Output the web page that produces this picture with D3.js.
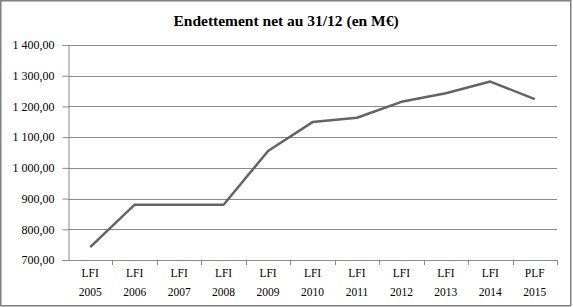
<!DOCTYPE html>
<html>
<head>
<meta charset="utf-8">
<script src="https://cdn.jsdelivr.net/npm/d3@7"></script>
<style>
  body { margin: 0; background: #fff; }
  svg text { font-family: "Liberation Serif", "Times New Roman", serif; fill: #000; }
</style>
</head>
<body>
<svg width="573" height="307"></svg>
<script>
// categories and values
var labelsTop = ["LFI", "LFI", "LFI", "LFI", "LFI", "LFI", "LFI", "LFI", "LFI", "LFI", "PLF"];
var years = ["2005", "2006", "2007", "2008", "2009", "2010", "2011", "2012", "2013", "2014", "2015"];
var values = [742, 880, 880, 880, 1055, 1149, 1163, 1215, 1243, 1281, 1224];
var yTicks = [700, 800, 900, 1000, 1100, 1200, 1300, 1400];

var svg = d3.select("svg"),
    width = 573,
    height = 307;

var margin = {left: 68, right: 16, top: 45, bottom: 47};

var fr = d3.formatLocale({decimal: ",", thousands: " ", grouping: [3], currency: ["", "€"]});
var fmt = fr.format(",.2f");

var x = d3.scaleBand()
    .domain(years)
    .range([margin.left, width - margin.right]);

var y = d3.scaleLinear()
    .domain([700, 1400])
    .range([height - margin.bottom, margin.top]);

// outer frame
svg.append("rect")
    .attr("x", 0.75).attr("y", 0.75)
    .attr("width", 570).attr("height", 305)
    .attr("fill", "#fff")
    .attr("stroke", "#808080")
    .attr("stroke-width", 1.5);

// title
svg.append("text")
    .attr("x", 286).attr("y", 26)
    .attr("text-anchor", "middle")
    .style("font-size", "15.5px")
    .style("font-weight", "bold")
    .text("Endettement net au 31/12 (en M€)");

// gridlines
svg.append("g")
    .selectAll("line")
    .data(yTicks.slice(1))
    .join("line")
    .attr("x1", margin.left).attr("x2", width - margin.right)
    .attr("y1", function(d) { return Math.round(y(d)) + 0.5; })
    .attr("y2", function(d) { return Math.round(y(d)) + 0.5; })
    .attr("stroke", "#8a8a8a");

// y axis
var yAxis = svg.append("g")
    .attr("transform", "translate(" + (margin.left + 0.5) + ",0)")
    .call(d3.axisLeft(y).tickValues(yTicks).tickFormat(fmt).tickSize(6).tickPadding(8));
yAxis.select(".domain").attr("stroke", "#8a8a8a");
yAxis.selectAll(".tick line").attr("stroke", "#8a8a8a");
yAxis.selectAll("text").style("font-size", "12px").attr("fill", "#000");

// x axis (ticks between categories)
var xg = svg.append("g");
xg.append("line")
    .attr("x1", margin.left).attr("x2", width - margin.right)
    .attr("y1", y(700) + 0.5).attr("y2", y(700) + 0.5)
    .attr("stroke", "#8a8a8a");
xg.selectAll("line.tk")
    .data(years)
    .join("line")
    .attr("class", "tk")
    .attr("x1", function(d) { return Math.round(x(d) + x.bandwidth()) + 0.5; })
    .attr("x2", function(d) { return Math.round(x(d) + x.bandwidth()) + 0.5; })
    .attr("y1", y(700)).attr("y2", y(700) + 5)
    .attr("stroke", "#8a8a8a");

var lab = xg.selectAll("text.cat")
    .data(years)
    .join("text")
    .attr("class", "cat")
    .attr("text-anchor", "middle")
    .style("font-size", "11.5px")
    .attr("x", function(d) { return x(d) + x.bandwidth() / 2; });
lab.append("tspan")
    .attr("x", function(d) { return x(d) + x.bandwidth() / 2; })
    .attr("y", 277)
    .text(function(d, i) { return labelsTop[i]; });
lab.append("tspan")
    .attr("x", function(d) { return x(d) + x.bandwidth() / 2; })
    .attr("y", 296)
    .text(function(d) { return d; });

// the series line
var line = d3.line()
    .x(function(d, i) { return x(years[i]) + x.bandwidth() / 2; })
    .y(function(d) { return y(d); });

svg.append("path")
    .datum(values)
    .attr("d", line)
    .attr("fill", "none")
    .attr("stroke", "#646464")
    .attr("stroke-width", 2.5)
    .attr("stroke-linejoin", "round");
</script>
</body>
</html>
